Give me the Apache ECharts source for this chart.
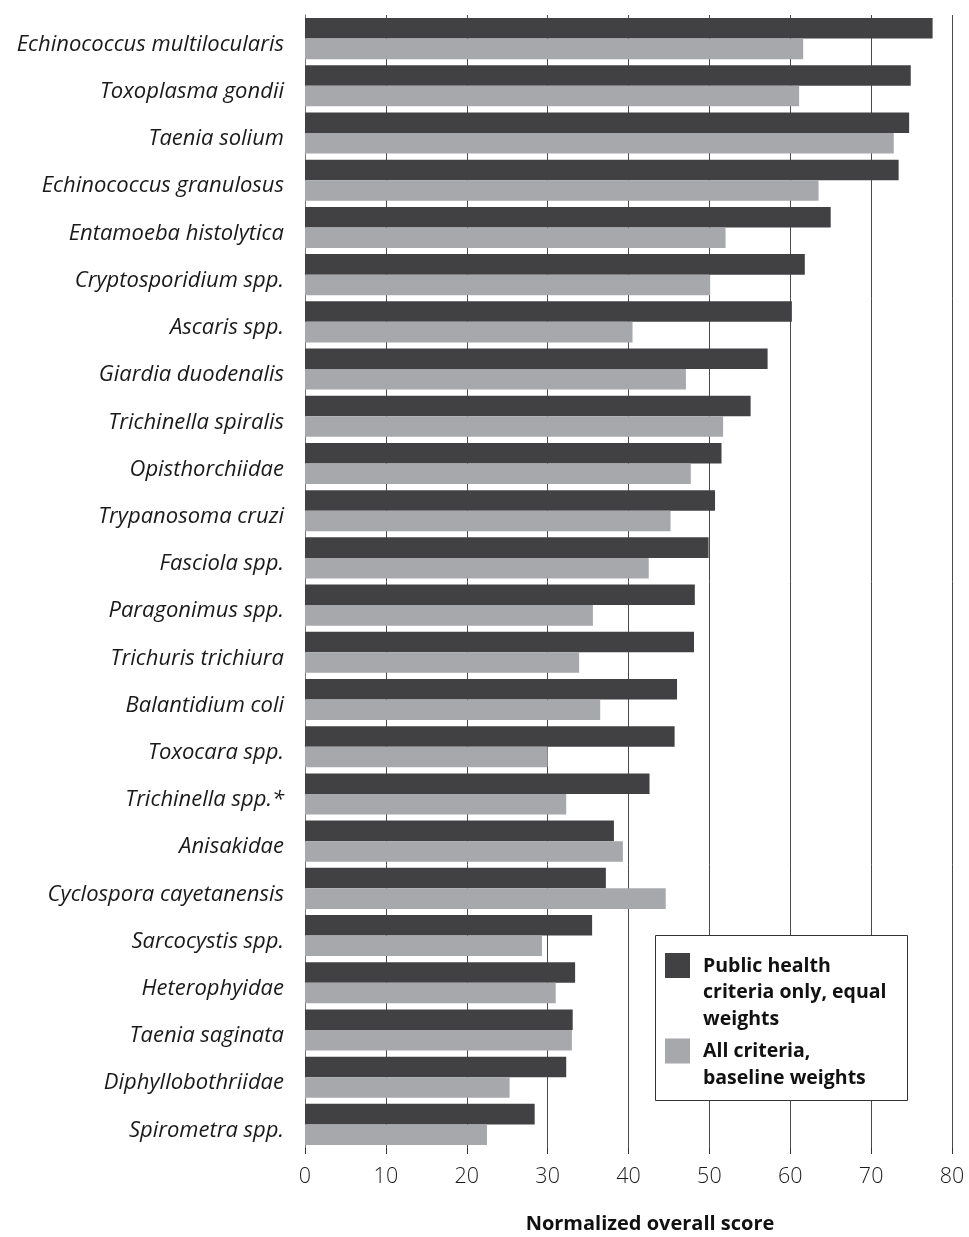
<!DOCTYPE html>
<html>
<head>
<meta charset="utf-8">
<script src="https://cdn.jsdelivr.net/npm/echarts@6/dist/echarts.min.js"></script>
<style>html,body{margin:0;padding:0;background:#fff;}#c{width:969px;height:1237px;}</style>
</head>
<body>
<div id="c"></div>
<script>
var categories = ["Echinococcus multilocularis","Toxoplasma gondii","Taenia solium","Echinococcus granulosus","Entamoeba histolytica","Cryptosporidium spp.","Ascaris spp.","Giardia duodenalis","Trichinella spiralis","Opisthorchiidae","Trypanosoma cruzi","Fasciola spp.","Paragonimus spp.","Trichuris trichiura","Balantidium coli","Toxocara spp.","Trichinella spp.*","Anisakidae","Cyclospora cayetanensis","Sarcocystis spp.","Heterophyidae","Taenia saginata","Diphyllobothriidae","Spirometra spp."];
var publicHealthEqual = [77.6,74.9,74.7,73.4,65.0,61.8,60.2,57.2,55.1,51.5,50.7,49.9,48.2,48.1,46.0,45.7,42.6,38.2,37.2,35.5,33.4,33.1,32.3,28.4];
var allCriteriaBaseline = [61.6,61.1,72.8,63.5,52.0,50.1,40.5,47.1,51.7,47.7,45.2,42.5,35.6,33.9,36.5,30.0,32.3,39.3,44.6,29.3,31.0,33.0,25.3,22.5];
var seriesNames = ["Public health criteria only, equal weights","All criteria, baseline weights"];
var legendLabels = ["Public health\ncriteria only, equal\nweights","All criteria,\nbaseline weights"];
var xTicks = [0,10,20,30,40,50,60,70,80];
var axisTitle = "Normalized overall score";

var FONT = "Open Sans";
var chart = echarts.init(document.getElementById('c'), null, {renderer:'canvas'});
var legendText = {fontFamily:FONT, fontWeight:'bold', fontSize:19.5, lineHeight:26.5, color:'#111', padding:[0,0,0,8]};
chart.setOption({
  animation:false,
  backgroundColor:'#fff',
  grid:{left:305, right:17, top:15, bottom:89, containLabel:false},
  xAxis:{
    type:'value', min:xTicks[0], max:xTicks[xTicks.length-1], interval:10,
    axisLine:{show:false},
    axisTick:{show:true, length:6, lineStyle:{color:'#333', width:1}},
    axisLabel:{margin:18, fontFamily:FONT, fontWeight:300, fontSize:21.5, color:'#1a1a1a',
      formatter:function(v){return xTicks.indexOf(v)>=0?String(v):'';}},
    splitLine:{show:true, lineStyle:{color:'#4a4a4a', width:1}}
  },
  yAxis:{
    type:'category', inverse:true, data:categories,
    axisLine:{show:true, lineStyle:{color:'#777', width:1}},
    axisTick:{show:false},
    axisLabel:{margin:21, fontFamily:FONT, fontStyle:'italic', fontSize:22, color:'#1a1a1a',
      verticalAlign:'top', lineHeight:12}
  },
  legend:[
    {show:true, z:10, orient:'vertical', left:665, top:953, itemWidth:25, itemHeight:79.5, padding:0,
     selectedMode:false, textStyle:legendText,
     data:[{name:seriesNames[0], icon:'path://M0,0h25v25h-25Z M0,79.5h0.01v-0.01h-0.01Z'}],
     formatter:function(){return legendLabels[0];}},
    {show:true, z:10, orient:'vertical', left:665, top:1038.5, itemWidth:25, itemHeight:53, padding:0,
     selectedMode:false, textStyle:legendText,
     data:[{name:seriesNames[1], icon:'path://M0,0h25v25h-25Z M0,53h0.01v-0.01h-0.01Z'}],
     formatter:function(){return legendLabels[1];}}
  ],
  graphic:[
    {type:'rect', z:3, shape:{x:655.5, y:935.5, width:252, height:165}, style:{fill:'#fff', stroke:'#333', lineWidth:1}},
    {type:'text', x:650, y:1224, style:{text:axisTitle, fontFamily:FONT, fontWeight:'bold', fontSize:20, fill:'#111', textAlign:'center', textVerticalAlign:'middle'}}
  ],
  series:[
    {name:seriesNames[0], type:'bar', data:publicHealthEqual, barGap:'0%', barCategoryGap:'13%', itemStyle:{color:'#414143'}},
    {name:seriesNames[1], type:'bar', data:allCriteriaBaseline, barGap:'0%', barCategoryGap:'13%', itemStyle:{color:'#a7a8ab'}}
  ]
});
</script>
</body>
</html>
